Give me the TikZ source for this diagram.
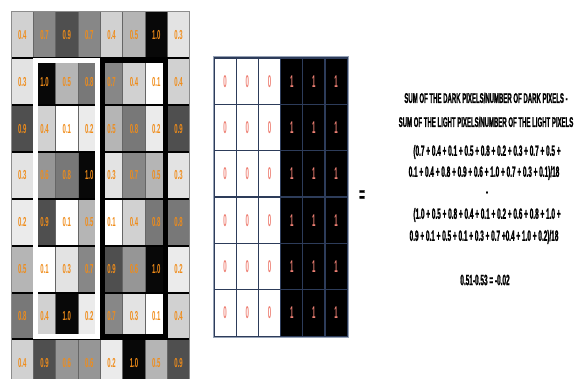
\documentclass[tikz,border=0pt]{standalone}
\usepackage{fontspec}
\newfontfamily\condfont[FakeStretch=0.46]{Liberation Sans}
\newfontfamily\headfont[FakeStretch=0.43,FakeBold=1.2]{Liberation Sans}
\newfontfamily\narrowfont[FakeStretch=0.36]{Liberation Sans}
\newfontfamily\eqfont{Liberation Sans}
\definecolor{numorange}{RGB}{240,140,25}
\definecolor{salmon}{RGB}{238,128,116}
\definecolor{gridnavy}{RGB}{45,60,90}
\definecolor{framegray}{RGB}{150,162,182}
\tikzset{
  lcell/.style={draw=black!60, line width=0.8pt, minimum width=22.35pt, minimum height=46.85pt,
    inner sep=0pt, text=numorange, font=\condfont\bfseries\fontsize{13}{13}\selectfont},
  mcell/.style={draw=gridnavy, line width=1.2pt, minimum width=22.2pt, minimum height=46.35pt,
    inner sep=0pt, text=salmon, font=\narrowfont\bfseries\fontsize{17}{17}\selectfont},
  rtext/.style={inner sep=0pt, font=\headfont\bfseries\fontsize{14}{14}\selectfont},
  etext/.style={inner sep=0pt, font=\headfont\bfseries\fontsize{15}{15}\selectfont},
}
\begin{document}
\begin{tikzpicture}[x=1pt,y=-1pt]
\useasboundingbox (0,0) rectangle (575,379);
\def\lx{11}\def\ly{10}\def\lw{22.35}\def\lh{46.85}
% left grid
\foreach \rowvals [count=\r] in {
  {0.4,0.7,0.9,0.7,0.4,0.5,1.0,0.3},
  {0.3,1.0,0.5,0.8,0.7,0.4,0.1,0.4},
  {0.9,0.4,0.1,0.2,0.5,0.8,0.2,0.9},
  {0.3,0.6,0.8,1.0,0.3,0.7,0.5,0.3},
  {0.2,0.9,0.1,0.5,0.1,0.4,0.8,0.8},
  {0.5,0.1,0.3,0.7,0.9,0.6,1.0,0.2},
  {0.8,0.4,1.0,0.2,0.7,0.3,0.1,0.4},
  {0.4,0.9,0.6,0.6,0.2,1.0,0.5,0.9}}{
  \foreach \v [count=\c] in \rowvals {
    \pgfmathtruncatemacro\idx{round(\v*10)}
    \pgfmathtruncatemacro\shade{{0,0,8,11,18,29,41,47,53,69,97}[\idx]}
    \node[lcell, fill=black!\shade] (L\r\c) at ({\lx+\lw*(\c-0.5)},{\ly+\lh*(\r-0.5)+1.5}) {\v};
  }
}
\foreach \r in {1,...,7}
  \draw[black, line width=2pt] ({\lx},{\ly+\lh*\r+1.5}) -- ++({8*\lw},0);
\draw[black!45, line width=1pt] ({\lx},{\ly+1.5}) rectangle ({\lx+8*\lw},{\ly+8*\lh+1.5});
\draw[white, line width=5pt] (35.5,60.5) rectangle (97.5,336);
\draw[black, line width=5pt] (102.5,60.5) rectangle (165.5,336);
% middle grid
\def\mx{214}\def\my{58}\def\mw{22.2}\def\mh{46.35}
\foreach \r in {1,...,6}{
  \foreach \c in {1,2,3}
    \node[mcell, fill=white] (M\r\c) at ({\mx+\mw*(\c-0.5)},{\my+\mh*(\r-0.5)}) {0};
  \foreach \c in {4,5,6}
    \node[mcell, fill=black] (M\r\c) at ({\mx+\mw*(\c-0.5)},{\my+\mh*(\r-0.5)}) {1};
}
\draw[framegray, line width=1pt] ({\mx-1},{\my-1}) rectangle ({\mx+6*\mw+1},{\my+6*\mh+1});
% equals sign
\node[inner sep=0pt, font=\headfont\bfseries\fontsize{22}{22}\selectfont] (eqsign) at (362,196) {=};
% right text
\node[rtext] (t1) at (486,98) {SUM OF THE DARK PIXELS/NUMBER OF DARK PIXELS -};
\node[rtext] (t2) at (486,122) {SUM OF THE LIGHT PIXELS/NUMBER OF THE LIGHT PIXELS};
\node[etext] (t3) at (487,152) {(0.7 + 0.4 + 0.1 + 0.5 + 0.8 + 0.2 + 0.3 + 0.7 + 0.5 +};
\node[etext] (t4) at (484,173) {0.1 + 0.4 + 0.8 + 0.9 + 0.6 + 1.0 + 0.7 + 0.3 + 0.1)/18};
\node[etext] (t5) at (487,194) {-};
\node[etext] (t6) at (487,215) {(1.0 + 0.5 + 0.8 + 0.4 + 0.1 + 0.2 + 0.6 + 0.8 + 1.0 +};
\node[etext] (t7) at (484,237) {0.9 + 0.1 + 0.5 + 0.1 + 0.3 + 0.7 +0.4 + 1.0 + 0.2)/18};
\node[etext] (t8) at (485,280) {0.51-0.53 = -0.02};
\end{tikzpicture}
\end{document}
